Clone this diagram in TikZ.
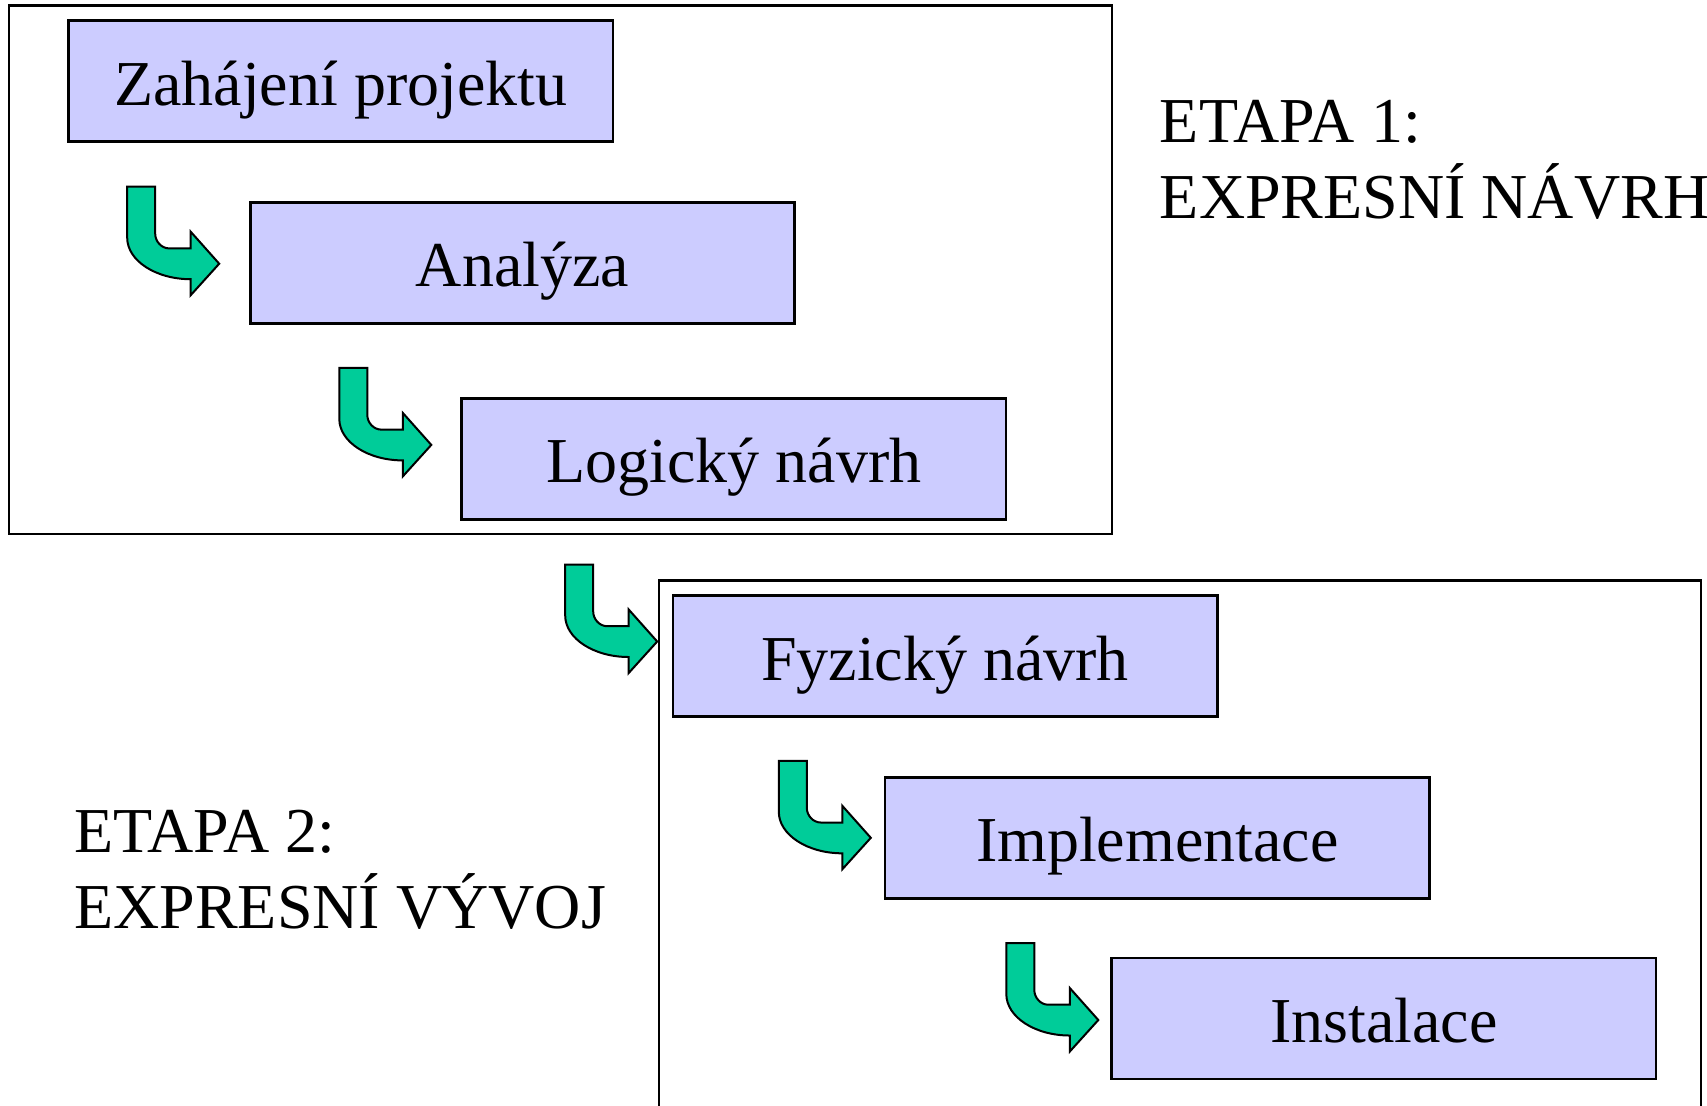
\documentclass[tikz,border=0pt]{standalone}
\usepackage{fontspec}
\setmainfont{Liberation Serif}
\usetikzlibrary{calc}
\definecolor{boxfill}{HTML}{CCCCFF}
\definecolor{turngreen}{HTML}{00CC99}
\tikzset{
  bendarrow/.pic={
    \draw[line width=1pt, fill=turngreen, line join=miter]
      (-92,-77) -- (-64,-77) -- (-64,-30)
      .. controls (-64,-22.3) and (-57.7,-15.3) .. (-50,-15.3)
      -- (-28.5,-15.3) -- (-28.5,-32) -- (0,0) -- (-28.5,31.5) -- (-28.5,15.5)
      .. controls (-63.3,15.5) and (-92,-3) .. (-92,-26) -- cycle;
  }
}
\begin{document}
\begin{tikzpicture}
[x=0.5pt, y=-0.5pt, font=\fontsize{32}{38}\selectfont,
stagebox/.style={rectangle, draw, fill=boxfill, line width=1.3pt, inner sep=0pt, minimum width=272.2pt, minimum height=60.4pt, text height=24pt, text depth=0pt},
frameline/.style={draw, line width=1.2pt},
etapa/.style={align=left, inner sep=0pt, anchor=base west}]

\useasboundingbox (0,0) rectangle (1707,1105);

% ramecky etap
\draw[frameline] (8.7,5.4) rectangle (1111.7,534);
\draw[frameline] (658.7,1110) -- (658.7,580.3) -- (1701,580.3) -- (1701,1110);

\node[stagebox] (zahajeni) at (340.8,81.1) {Zahájení projektu};
\node[stagebox] (analyza) at (522.4,262.9) {Analýza};
\node[stagebox] (logicky) at (733.8,458.9) {Logický návrh};
\node[stagebox] (fyzicky) at (945.0,656.0) {Fyzický návrh};
\node[stagebox] (impl) at (1157.3,837.8) {Implementace};
\node[stagebox] (instal) at (1383.8,1018.5) {Instalace};

% popisky etap (base = posledni radek)
\node[etapa] (etapa1) at (1159.5,218.8) {ETAPA 1:\\EXPRESNÍ NÁVRH};
\node[etapa] (etapa2) at (74.0,928.7) {ETAPA 2:\\EXPRESNÍ VÝVOJ};

% sipky mezi kroky
\pic at ($(analyza.west)+(-29.7,0.8)$) {bendarrow};
\pic at ($(logicky.west)+(-29,-14)$) {bendarrow};
\pic at ($(fyzicky.west)+(-14.3,-14.5)$) {bendarrow};
\pic at ($(impl.west)+(-13,0)$) {bendarrow};
\pic at ($(instal.west)+(-12,1.5)$) {bendarrow};

\end{tikzpicture}
\end{document}
